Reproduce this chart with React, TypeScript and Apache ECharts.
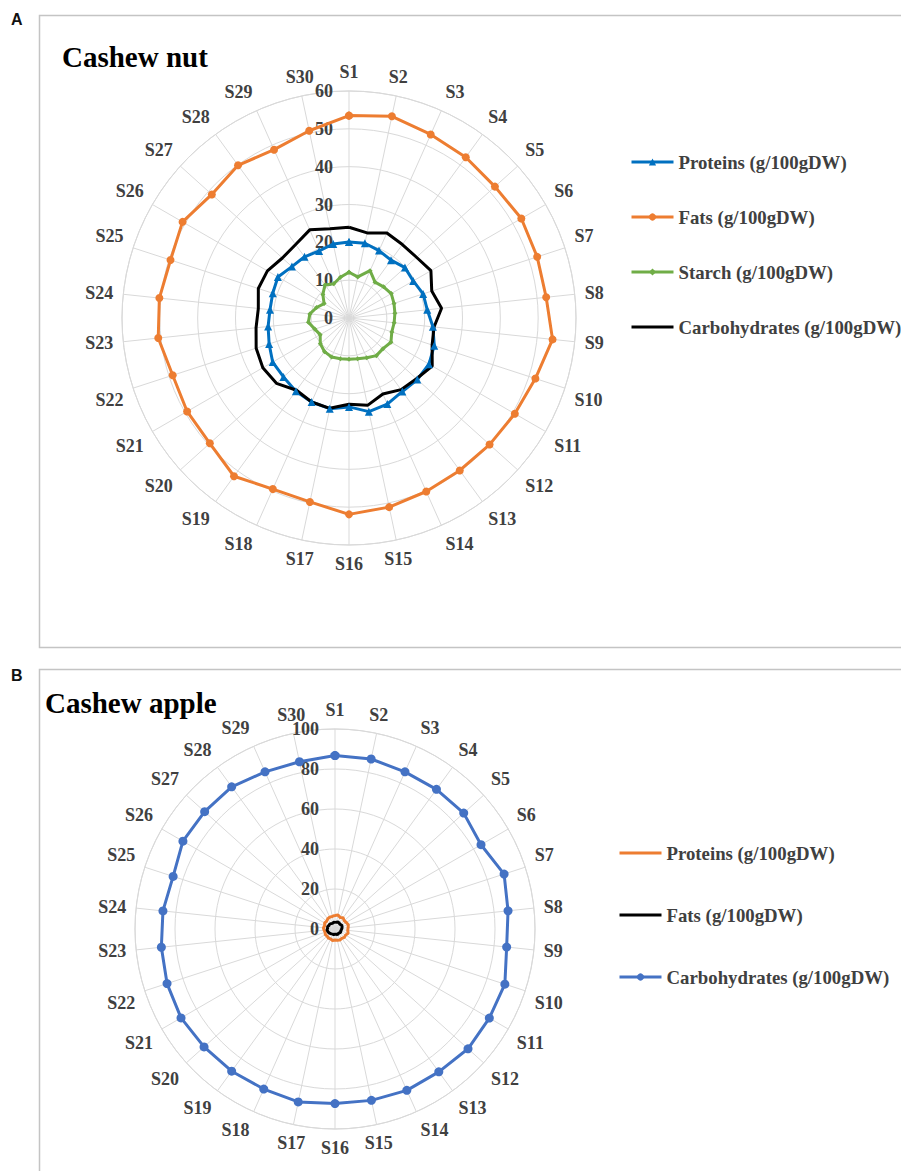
import { useEffect, useRef } from "react";
import * as echarts from "echarts";

// ---------- data ----------
const categories = [
  "S1", "S2", "S3", "S4", "S5", "S6", "S7", "S8", "S9", "S10",
  "S11", "S12", "S13", "S14", "S15", "S16", "S17", "S18", "S19", "S20",
  "S21", "S22", "S23", "S24", "S25", "S26", "S27", "S28", "S29", "S30",
];

// Panel A – Cashew nut
const nutProteins = [20.1, 20.2, 19.5, 18.9, 19.9, 19.6, 20.6, 20.8, 22.3, 23.7, 24.4, 24.3, 24.0, 24.9, 25.3, 23.5, 24.5, 24.3, 23.9, 23.3, 23.3, 22.2, 21.5, 21.0, 21.2, 21.7, 20.3, 20.0, 19.4, 20.0];
const nutFats = [53.5, 54.5, 53.1, 52.5, 51.9, 52.6, 52.3, 52.4, 54.1, 51.8, 50.6, 50.0, 49.8, 50.2, 51.1, 51.9, 49.7, 49.5, 51.7, 49.5, 49.4, 49.0, 50.7, 50.4, 49.6, 50.8, 48.8, 49.9, 48.7, 50.6];
const nutStarch = [12.1, 11.1, 13.7, 11.7, 12.3, 12.9, 12.5, 12.2, 12.0, 11.9, 12.8, 12.1, 12.3, 11.5, 11.0, 10.9, 11.0, 11.3, 11.0, 10.2, 8.8, 9.5, 10.8, 10.4, 9.0, 7.6, 9.3, 10.8, 9.9, 11.0];
const nutCarbs = [24.0, 23.0, 24.6, 24.0, 24.0, 25.0, 23.0, 24.6, 22.6, 23.1, 25.4, 24.0, 23.4, 22.0, 23.6, 22.8, 24.4, 24.3, 23.6, 25.8, 26.3, 25.8, 24.7, 24.1, 25.2, 24.9, 23.7, 24.0, 25.5, 24.1];

// Panel B – Cashew apple
const appleProteins = [6.8, 7.2, 6.3, 6.9, 6.2, 6.5, 7.0, 6.6, 6.4, 6.9, 6.1, 6.3, 5.8, 6.0, 5.7, 5.5, 5.9, 5.4, 5.6, 5.3, 5.6, 5.2, 5.5, 5.8, 5.4, 6.0, 5.7, 6.2, 6.5, 6.4];
const appleFats = [3.2, 3.5, 3.8, 3.6, 3.4, 3.9, 3.7, 3.5, 3.2, 3.0, 3.3, 2.9, 2.8, 3.1, 2.7, 2.6, 2.9, 2.8, 3.0, 3.3, 3.6, 3.8, 4.0, 3.7, 3.9, 3.5, 3.6, 3.3, 3.1, 3.4];
const appleCarbs = [86.7, 86.9, 86.0, 86.3, 86.6, 84.3, 88.9, 87.0, 86.3, 89.3, 89.1, 89.5, 88.3, 88.3, 87.6, 87.3, 88.4, 87.6, 87.9, 88.1, 88.9, 88.3, 87.3, 86.5, 85.1, 87.8, 87.7, 87.9, 86.0, 85.5];

const seriesNames = ["Proteins (g/100gDW)", "Fats (g/100gDW)", "Starch (g/100gDW)", "Carbohydrates (g/100gDW)"];
const titleA = "Cashew nut";
const titleB = "Cashew apple";
const nutRadiusMax = 60;
const nutRadiusStep = 10;
const appleRadiusMax = 100;
const appleRadiusStep = 20;

const B_PREFIX = "apple: ";

const SERIF = "'Liberation Serif', 'Times New Roman', serif";
const TEXT = "#404040";
const GRID = "#d9d9d9";

// angle position (degrees) of each sample on the 360° angle axis
const STEP_DEG = 360 / categories.length;

function loop(values: number[]) {
  const pts = values.map((v, i) => [v, i * STEP_DEG]);
  pts.push([values[0], 360]);
  return pts;
}

function polarAxes(polarIndex: number, max: number, step: number) {
  return {
    angle: {
      polarIndex,
      type: "value",
      min: 0,
      max: 360,
      interval: STEP_DEG,
      startAngle: 90,
      clockwise: true,
      axisLine: { show: true, lineStyle: { color: GRID, width: 1 } },
      axisTick: { show: false },
      axisLabel: {
        margin: 10,
        fontFamily: SERIF,
        fontSize: 18,
        fontWeight: "bold",
        color: TEXT,
        formatter: (v: number) => {
          const i = Math.round(v / STEP_DEG);
          return i >= categories.length ? "" : categories[i];
        },
      },
      splitLine: { show: true, lineStyle: { color: GRID, width: 1 } },
    },
    radius: {
      polarIndex,
      type: "value",
      min: 0,
      max,
      interval: step,
      axisLine: { show: false },
      axisTick: { show: false },
      axisLabel: { margin: 16, align: "right", fontFamily: SERIF, fontSize: 18, fontWeight: "bold", color: TEXT },
      splitLine: { show: true, lineStyle: { color: GRID, width: 1 } },
    },
  };
}

function lineSeries(name: string, polarIndex: number, values: number[], color: string, symbol: string, symbolSize: number) {
  const hasSymbol = symbol !== "none";
  return {
    type: "line",
    name,
    coordinateSystem: "polar",
    polarIndex,
    data: loop(values),
    symbol: hasSymbol ? symbol : "circle",
    symbolSize: hasSymbol ? symbolSize : 0,
    showSymbol: hasSymbol,
    clip: false,
    lineStyle: { color, width: 3 },
    itemStyle: { color },
    smooth: false,
    animation: false,
    z: 3,
  };
}

function legendItem(name: string, markerVisible: boolean) {
  return {
    name,
    lineStyle: { width: 3 },
    itemStyle: markerVisible ? {} : { opacity: 0 },
  };
}

export default function App() {
  const ref = useRef<HTMLDivElement>(null);
  useEffect(() => {
    if (!ref.current) return;
    const chart = echarts.init(ref.current, undefined, { renderer: "svg" });
    const a = polarAxes(0, nutRadiusMax, nutRadiusStep);
    const b = polarAxes(1, appleRadiusMax, appleRadiusStep);
    const legendText = { fontFamily: SERIF, fontSize: 18.8, fontWeight: "bold", color: TEXT, lineHeight: 20 };
    chart.setOption({
      animation: false,
      backgroundColor: "#ffffff",
      title: [
        { text: "A", left: 11, top: 11, textStyle: { fontFamily: "'Liberation Sans', Arial, sans-serif", fontSize: 16, fontWeight: "bold", color: "#111" }, padding: 0 },
        { text: titleA, left: 62, top: 42, textStyle: { fontFamily: SERIF, fontSize: 29, fontWeight: "bold", color: "#000" }, padding: 0 },
        { text: "B", left: 11, top: 667, textStyle: { fontFamily: "'Liberation Sans', Arial, sans-serif", fontSize: 16, fontWeight: "bold", color: "#111" }, padding: 0 },
        { text: titleB, left: 45, top: 688, textStyle: { fontFamily: SERIF, fontSize: 29, fontWeight: "bold", color: "#000" }, padding: 0 },
      ],
      graphic: [
        { type: "rect", shape: { x: 39.5, y: 15.5, width: 880, height: 632 }, style: { fill: "none", stroke: "#c4c4c4", lineWidth: 1.5 }, z: -1 },
        { type: "rect", shape: { x: 39.5, y: 669.5, width: 880, height: 560 }, style: { fill: "none", stroke: "#c4c4c4", lineWidth: 1.5 }, z: -1 },
      ],
      polar: [
        { center: [349, 318], radius: 227 },
        { center: [335, 929], radius: 200 },
      ],
      angleAxis: [a.angle, b.angle],
      radiusAxis: [a.radius, b.radius],
      legend: [
        {
          orient: "vertical",
          left: 630,
          top: 152,
          padding: 0,
          itemWidth: 42,
          itemHeight: 9,
          itemGap: 35,
          textStyle: legendText,
          data: [
            legendItem(seriesNames[0], true),
            legendItem(seriesNames[1], true),
            legendItem(seriesNames[2], true),
            legendItem(seriesNames[3], false),
          ],
        },
        {
          orient: "vertical",
          left: 618,
          top: 843,
          padding: 0,
          itemWidth: 42,
          itemHeight: 9,
          itemGap: 42,
          textStyle: legendText,
          data: [
            legendItem(B_PREFIX + seriesNames[0], false),
            legendItem(B_PREFIX + seriesNames[1], false),
            legendItem(B_PREFIX + seriesNames[3], true),
          ],
          formatter: (name: string) => name.replace(B_PREFIX, ""),
        },
      ],
      series: [
        lineSeries(seriesNames[0], 0, nutProteins, "#0070C0", "triangle", 8),
        lineSeries(seriesNames[1], 0, nutFats, "#ED7D31", "circle", 8),
        lineSeries(seriesNames[2], 0, nutStarch, "#70AD47", "diamond", 5),
        lineSeries(seriesNames[3], 0, nutCarbs, "#000000", "none", 0),
        lineSeries(B_PREFIX + seriesNames[0], 1, appleProteins, "#ED7D31", "none", 0),
        lineSeries(B_PREFIX + seriesNames[1], 1, appleFats, "#000000", "none", 0),
        lineSeries(B_PREFIX + seriesNames[3], 1, appleCarbs, "#4472C4", "circle", 9),
      ],
    });
    return () => chart.dispose();
  }, []);
  return <div ref={ref} style={{ position: "absolute", left: 0, top: 0, width: 901, height: 1171 }} />;
}
